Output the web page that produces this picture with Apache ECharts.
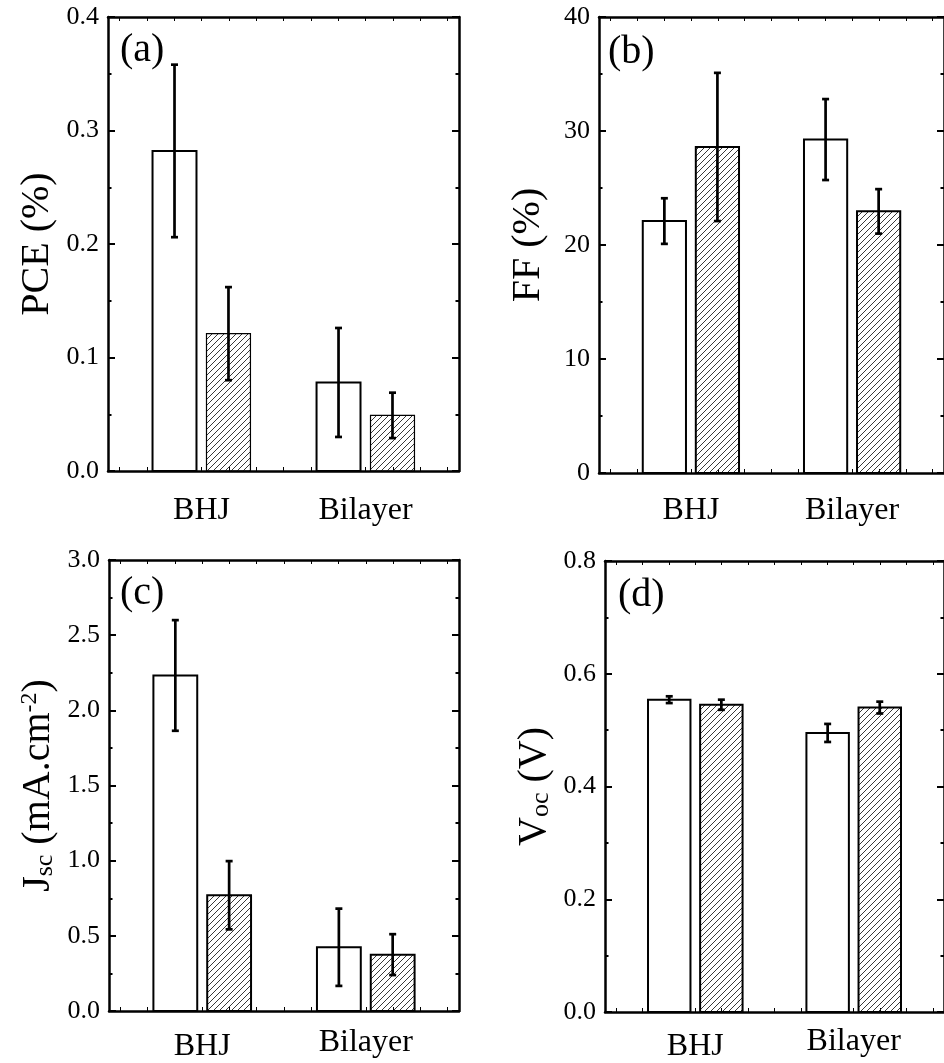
<!DOCTYPE html>
<html>
<head>
<meta charset="utf-8">
<style>html,body{margin:0;padding:0;background:#fff;}#chart{width:944px;height:1063px;}</style>
<script src="https://cdn.jsdelivr.net/npm/echarts@6/dist/echarts.min.js"></script>
</head>
<body>
<div id="chart"></div>
<script>
// ---------------- data ----------------
const categories = ['BHJ', 'Bilayer'];

const pceOpen = [0.282, 0.078];
const pceOpenErr = [0.076, 0.048];
const pceHatched = [0.121, 0.049];
const pceHatchedErr = [0.041, 0.020];

const ffOpen = [22.1, 29.25];
const ffOpenErr = [2.0, 3.55];
const ffHatched = [28.6, 22.95];
const ffHatchedErr = [6.5, 1.95];

const jscOpen = [2.232, 0.424];
const jscOpenErr = [0.368, 0.257];
const jscHatched = [0.770, 0.375];
const jscHatchedErr = [0.227, 0.136];

const vocOpen = [0.554, 0.495];
const vocOpenErr = [0.006, 0.016];
const vocHatched = [0.545, 0.540];
const vocHatchedErr = [0.009, 0.0105];

// y axis ranges: [min, max, interval]
const pceAxis = [0, 0.4, 0.1];
const ffAxis = [0, 40, 10];
const jscAxis = [0, 3.0, 0.5];
const vocAxis = [0, 0.8, 0.2];

const panelLabels = ['(a)', '(b)', '(c)', '(d)'];
const yDecimals = [1, 0, 1, 1];

// ---------------- chart ----------------
const FONT = '"Liberation Serif", "Times New Roman", serif';
const X_MIN = 0.43, X_MAX = 2.57;
const BAR_HALF = 0.134, BAR_OFF = 0.1645;

function makeHatch() {
  const c = document.createElement('canvas');
  c.width = 6; c.height = 6;
  const g = c.getContext('2d');
  g.strokeStyle = '#222';
  g.lineWidth = 0.9;
  g.beginPath();
  g.moveTo(0, 6); g.lineTo(6, 0);
  g.moveTo(-1, 1); g.lineTo(1, -1);
  g.moveTo(5, 7); g.lineTo(7, 5);
  g.stroke();
  return c;
}
const hatchFill = { image: makeHatch(), repeat: 'repeat' };

const xTickVals = [];
for (let k = 3; k <= 15; k++) xTickVals.push(k / 6);

const panels = [
  { grid: { left: 108, top: 17, width: 351, height: 454 }, axis: pceAxis, open: pceOpen, openErr: pceOpenErr, hat: pceHatched, hatErr: pceHatchedErr,
    name: 'PCE (%)', hatBorder: 1.2, labelMargin: 24, padA: 0, padB: 0, title: { left: 120, top: 30 } },
  { grid: { left: 599, top: 17, width: 351, height: 456 }, axis: ffAxis, open: ffOpen, openErr: ffOpenErr, hat: ffHatched, hatErr: ffHatchedErr,
    name: 'FF (%)', hatBorder: 2, labelMargin: 22, padA: 0, padB: 0, title: { left: 608, top: 32 } },
  { grid: { left: 109, top: 560, width: 350, height: 454 }, axis: jscAxis, open: jscOpen, openErr: jscOpenErr, hat: jscHatched, hatErr: jscHatchedErr,
    name: '{m|J}{s|sc}{m| (mA.cm}{p|-2}{m|)}', hatBorder: 2, labelMargin: 12, padA: 8, padB: 4, title: { left: 120, top: 573 } },
  { grid: { left: 605, top: 561, width: 351, height: 453 }, axis: vocAxis, open: vocOpen, openErr: vocOpenErr, hat: vocHatched, hatErr: vocHatchedErr,
    name: '{m|V}{s|oc}{m| (V)}', hatBorder: 2, labelMargin: 11, padA: 8, padB: 3, title: { left: 618, top: 575 } }
];

function barRenderer(offset, hatched, borderW) {
  return function (params, api) {
    const x = api.value(0) + offset;
    const v = api.value(1), e = api.value(2);
    const p0 = api.coord([x - BAR_HALF, 0]);
    const p1 = api.coord([x + BAR_HALF, v]);
    const top = api.coord([x, v + e]);
    const bot = api.coord([x, v - e]);
    const cx = top[0];
    const cap = 3.5;
    const ls = { stroke: '#000', lineWidth: 2.7 };
    return {
      type: 'group',
      children: [
        { type: 'rect', shape: { x: p0[0], y: p1[1], width: p1[0] - p0[0], height: p0[1] - p1[1] },
          style: { fill: hatched ? hatchFill : '#fff', stroke: '#000', lineWidth: borderW } },
        { type: 'line', shape: { x1: cx, y1: top[1], x2: cx, y2: bot[1] }, style: ls },
        { type: 'line', shape: { x1: cx - cap, y1: top[1], x2: cx + cap, y2: top[1] }, style: ls },
        { type: 'line', shape: { x1: cx - cap, y1: bot[1], x2: cx + cap, y2: bot[1] }, style: ls }
      ]
    };
  };
}

const option = {
  backgroundColor: '#fff',
  animation: false,
  title: [], grid: [], xAxis: [], yAxis: [], series: []
};

panels.forEach((p, i) => {
  option.grid.push(Object.assign({ containLabel: false }, p.grid));
  option.title.push({
    text: panelLabels[i], left: p.title.left, top: p.title.top, padding: 0,
    textStyle: { fontFamily: FONT, fontSize: 40, fontWeight: 'normal', color: '#000' }
  });
  const axLine = { show: true, onZero: false, lineStyle: { color: '#000', width: 2.5 } };
  option.xAxis.push({
    gridIndex: i, type: 'value', min: X_MIN, max: X_MAX, position: 'bottom',
    axisLine: axLine,
    axisTick: { show: true, inside: true, length: 4, customValues: xTickVals, lineStyle: { color: '#000', width: 1 } },
    axisLabel: {
      show: true, customValues: [1, 2], margin: p.labelMargin,
      formatter: v => (Math.round(v) === 1 ? '{a|' : '{b|') + categories[Math.round(v) - 1] + '}',
      rich: {
        a: { fontFamily: FONT, fontSize: 32, color: '#000', padding: [p.padA, 0, 0, 0] },
        b: { fontFamily: FONT, fontSize: 32, color: '#000', padding: [p.padB, 0, 0, 0] }
      }
    },
    splitLine: { show: false }
  });
  option.xAxis.push({
    gridIndex: i, type: 'value', min: X_MIN, max: X_MAX, position: 'top',
    axisLine: axLine,
    axisTick: { show: true, inside: true, length: 4, customValues: xTickVals, lineStyle: { color: '#000', width: 1 } },
    axisLabel: { show: false }, splitLine: { show: false }
  });
  const dec = yDecimals[i];
  const yCommon = {
    gridIndex: i, type: 'value', min: p.axis[0], max: p.axis[1], interval: p.axis[2],
    axisLine: axLine,
    axisTick: { show: true, inside: true, length: 7, lineStyle: { color: '#000', width: 2 } },
    minorTick: { show: true, splitNumber: 2, length: 3.5, lineStyle: { color: '#000', width: 2 } },
    splitLine: { show: false }, minorSplitLine: { show: false }
  };
  option.yAxis.push(Object.assign({}, yCommon, {
    position: 'left',
    axisLabel: { show: true, margin: 9, fontFamily: FONT, fontSize: 26, color: '#000', formatter: v => v.toFixed(dec) },
    name: p.name, nameLocation: 'middle', nameGap: 51,
    nameTextStyle: {
      fontFamily: FONT, fontSize: 40, color: '#000',
      rich: {
        m: { fontFamily: FONT, fontSize: 40, color: '#000' },
        s: { fontFamily: FONT, fontSize: 26, color: '#000', verticalAlign: 'bottom' },
        p: { fontFamily: FONT, fontSize: 24, color: '#000', verticalAlign: 'top' }
      }
    }
  }));
  option.yAxis.push(Object.assign({}, yCommon, {
    position: 'right', axisLabel: { show: false }
  }));
  const xi = i * 2, yi = i * 2;
  option.series.push({
    type: 'custom', coordinateSystem: 'cartesian2d', xAxisIndex: xi, yAxisIndex: yi,
    renderItem: barRenderer(-BAR_OFF, false, 2),
    encode: { x: 0, y: 1 },
    data: categories.map((c, k) => [k + 1, p.open[k], p.openErr[k]])
  });
  option.series.push({
    type: 'custom', coordinateSystem: 'cartesian2d', xAxisIndex: xi, yAxisIndex: yi,
    renderItem: barRenderer(BAR_OFF, true, p.hatBorder),
    encode: { x: 0, y: 1 },
    data: categories.map((c, k) => [k + 1, p.hat[k], p.hatErr[k]])
  });
});

const chart = echarts.init(document.getElementById('chart'), null, { renderer: 'canvas' });
chart.setOption(option);
</script>
</body>
</html>
